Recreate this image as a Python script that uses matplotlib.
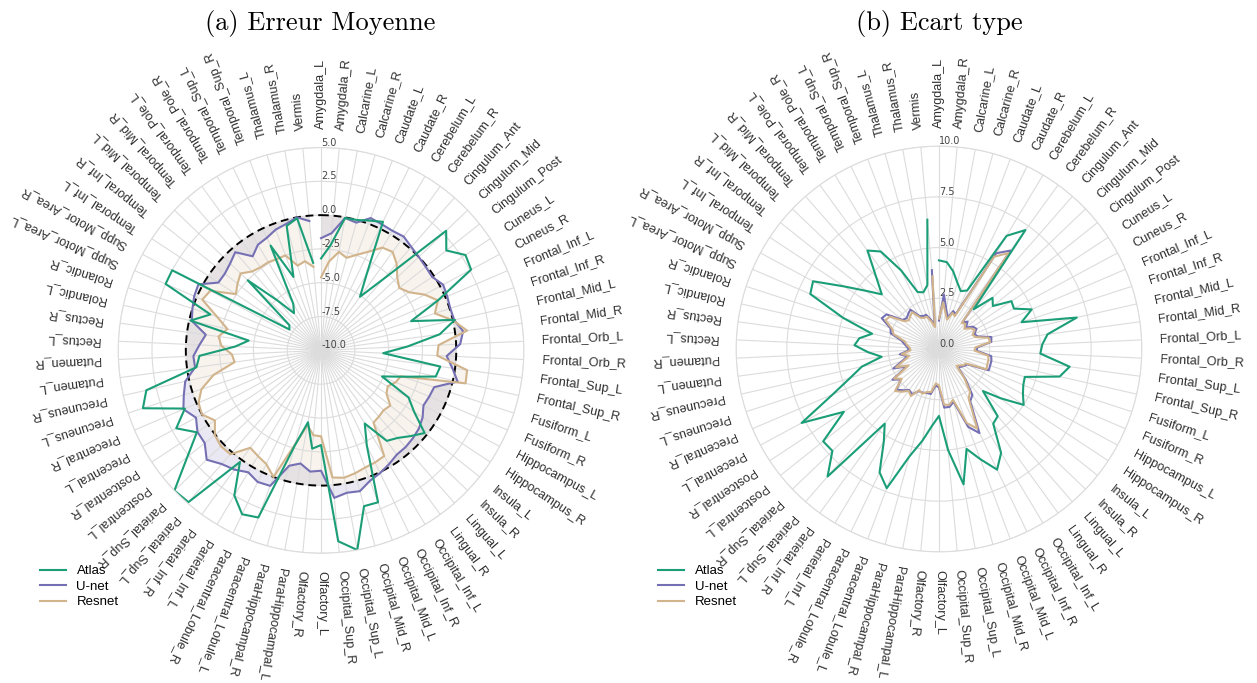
import numpy as np
import matplotlib
matplotlib.use("Agg")
import matplotlib.pyplot as plt
from matplotlib.lines import Line2D

plt.rcParams['axes.unicode_minus'] = False

regions = ["Amygdala_L", "Amygdala_R", "Calcarine_L", "Calcarine_R", "Caudate_L", "Caudate_R",
           "Cerebelum_L", "Cerebelum_R", "Cingulum_Ant", "Cingulum_Mid", "Cingulum_Post",
           "Cuneus_L", "Cuneus_R", "Frontal_Inf_L", "Frontal_Inf_R", "Frontal_Mid_L", "Frontal_Mid_R",
           "Frontal_Orb_L", "Frontal_Orb_R", "Frontal_Sup_L", "Frontal_Sup_R", "Fusiform_L", "Fusiform_R",
           "Hippocampus_L", "Hippocampus_R", "Insula_L", "Insula_R", "Lingual_L", "Lingual_R",
           "Occipital_Inf_L", "Occipital_Inf_R", "Occipital_Mid_L", "Occipital_Mid_R",
           "Occipital_Sup_L", "Occipital_Sup_R", "Olfactory_L", "Olfactory_R",
           "ParaHippocampal_L", "ParaHippocampal_R", "Paracentral_Lobule_L", "Paracentral_Lobule_R",
           "Parietal_Inf_L", "Parietal_Inf_R", "Parietal_Sup_L", "Parietal_Sup_R",
           "Postcentral_L", "Postcentral_R", "Precentral_L", "Precentral_R", "Precuneus_L", "Precuneus_R",
           "Putamen_L", "Putamen_R", "Rectus_L", "Rectus_R", "Rolandic_L", "Rolandic_R",
           "Supp_Motor_Area_L", "Supp_Motor_Area_R", "Temporal_Inf_L", "Temporal_Inf_R",
           "Temporal_Mid_L", "Temporal_Mid_R", "Temporal_Pole_L", "Temporal_Pole_R",
           "Temporal_Sup_L", "Temporal_Sup_R", "Thalamus_L", "Thalamus_R", "Vermis"]

series_names = ["Atlas", "U-net", "Resnet"]

mean_atlas = [-3.2, -2.2, -0.05, 0.0, 0.25, 0.55, -3.4, -5.1, -3.0, 2.8,
              1.85, 2.8, 2.6, -0.6, -3.0, 0.15, -1.15, -3.6, -5.4, -1.1,
              -1.3, -3.7, -5.1, -2.65, -1.75, -0.2, -0.83, -1.4, -1.73, -3.7,
              -2.2, 2.0, 1.95, 5.0, 4.17, -3.0, -2.7, -4.6, -2.7, 3.2,
              3.45, 2.5, 0.2, 4.9, 5.0, 2.65, 1.0, 2.16, 0.95, 3.85,
              3.25, -0.7, -1.0, -3.65, -4.6, -0.1, -1.4, 2.5, 2.5, -7.2,
              -7.0, -2.5, -5.1, -6.6, -6.0, -1.4, -4.2, -0.45, -0.07, -3.5]

mean_unet = [-1.7, -1.3, -0.05, -0.2, 0.45, 0.35, 0.3, 0.4, 0.15, 0.0,
             -0.1, -0.15, 0.25, 0.15, 0.05, 0.1, 0.6, 0.3, -0.7, -0.2,
             0.36, -1.2, -1.3, -1.4, -1.0, -0.74, -0.6, -0.5, -0.47, -0.2,
             0.07, 0.3, 0.8, 0.7, 0.95, -1.1, -1.0, -1.5, -1.15, 0.7,
             0.8, 0.5, 0.9, 1.16, 1.7, 1.0, 0.95, 0.5, 1.07, 0.67,
             0.3, -0.6, -0.55, -1.0, -1.4, -0.2, 0.0, 0.2, 0.3, -0.9,
             -0.9, -0.7, -0.36, -1.4, -0.9, -0.76, -0.46, -0.3, 0.0, -0.4]

mean_resnet = [-4.6, -3.4, -2.6, -2.9, -2.45, -1.9, -1.15, -1.0, -1.5, -2.2,
               -2.6, -2.2, -1.3, -0.6, -1.15, 0.0, 0.9, -1.3, -1.4, 0.9,
               0.96, -3.8, -4.0, -4.4, -4.2, -3.45, -3.6, -3.5, -3.4, -0.9,
               -0.8, -0.74, -0.57, -0.43, -0.56, -3.65, -3.7, -4.37, -2.8, 0.0,
               -0.67, -0.9, -1.1, 0.2, 0.25, 0.05, -0.6, 0.0, -0.15, -0.7,
               -1.85, -3.55, -3.4, -2.63, -2.35, -2.9, -1.9, -0.45, -0.7, -2.45,
               -2.1, -1.77, -2.25, -2.4, -2.4, -2.5, -2.5, -3.5, -3.3, -3.8]

std_atlas = [4.37, 4.3, 3.9, 3.4, 3.05, 3.2, 6.5, 7.25, 2.6, 3.65,
             3.4, 4.28, 4.2, 4.97, 4.28, 6.97, 5.4, 5.1, 5.0, 6.5,
             6.1, 4.45, 4.52, 4.7, 5.0, 3.9, 3.0, 4.4, 4.55, 5.97,
             6.6, 5.8, 5.11, 6.78, 5.0, 3.3, 3.8, 4.6, 5.5, 7.33,
             6.75, 5.3, 4.55, 8.35, 7.27, 7.3, 5.62, 7.69, 5.7, 4.6,
             3.9, 2.85, 3.5, 4.17, 3.96, 3.38, 4.97, 6.9, 7.05, 5.6,
             4.6, 3.9, 4.7, 6.0, 5.6, 4.3, 3.0, 2.9, 3.2, 6.4]

std_unet = [1.4, 2.7, 2.0, 1.6, 2.0, 1.9, 5.5, 6.0, 1.75, 1.95,
            1.7, 2.0, 2.1, 1.9, 2.0, 2.65, 2.6, 1.9, 1.85, 2.6,
            2.65, 2.65, 2.67, 1.6, 1.5, 1.4, 1.3, 2.0, 2.8, 3.0,
            4.6, 4.1, 2.7, 2.9, 2.9, 1.9, 1.8, 2.25, 2.25, 2.3,
            2.3, 2.6, 2.5, 2.7, 2.9, 2.4, 2.75, 1.8, 2.45, 1.9,
            1.6, 1.95, 1.5, 1.55, 1.7, 1.9, 2.5, 2.6, 3.2, 3.1,
            2.3, 2.2, 2.3, 2.4, 1.9, 1.8, 1.8, 1.5, 1.2, 3.9]

std_resnet = [1.5, 2.3, 1.8, 1.5, 1.9, 1.8, 5.3, 5.85, 1.7, 1.8,
              1.6, 1.85, 2.0, 1.8, 1.9, 2.5, 2.55, 1.8, 1.75, 2.45,
              2.5, 2.5, 2.55, 1.5, 1.45, 1.3, 1.2, 1.9, 2.6, 2.85,
              4.35, 3.9, 2.6, 2.8, 2.75, 1.8, 1.7, 2.15, 2.2, 2.35,
              2.25, 2.7, 2.55, 2.8, 3.0, 2.35, 2.65, 1.7, 2.3, 1.8,
              1.5, 1.85, 1.4, 1.45, 1.6, 1.75, 2.35, 2.5, 3.0, 2.9,
              2.2, 2.05, 2.15, 2.25, 1.8, 1.7, 1.7, 1.4, 1.1, 3.6]

mean_ticks = [-10.0, -7.5, -5.0, -2.5, 0.0, 2.5, 5.0]
std_ticks = [0.0, 2.5, 5.0, 7.5, 10.0]

colors = {"Atlas": "#1b9e77", "U-net": "#7570b3", "Resnet": "#d2b48c"}
GRID = "#dcdcdc"

n = len(regions)
angles = np.arange(n) * 2 * np.pi / n

fig = plt.figure(figsize=(12.57, 6.83), dpi=100)
ax1 = fig.add_axes([0.0939, 0.190, 0.323, 0.594], projection='polar')
ax2 = fig.add_axes([0.5855, 0.192, 0.323, 0.594], projection='polar')


def setup(ax, ticks):
    ax.set_theta_zero_location('N')
    ax.set_theta_direction(-1)
    ax.set_ylim(ticks[0], ticks[-1])
    ax.set_yticks(ticks)
    ax.set_yticklabels([f"{t:.1f}" for t in ticks])
    ax.set_xticks(angles)
    ax.set_xticklabels([])
    ax.set_rlabel_position(0)
    ax.grid(True, color=GRID, lw=0.8)
    ax.spines['polar'].set_color(GRID)
    ax.spines['polar'].set_linewidth(0.8)
    ax.tick_params(axis='y', labelsize=7, labelcolor='#444444')
    ax.tick_params(axis='x', length=0)
    span = ticks[-1] - ticks[0]
    rtext = ticks[-1] + span * 0.09
    for th, name in zip(angles, regions):
        rot = 90 - np.degrees(th)
        ax.text(th, rtext, name, rotation=rot, rotation_mode='anchor',
                ha='left', va='center', fontsize=9.1, family='Liberation Sans',
                color='#303030', clip_on=False)


setup(ax1, mean_ticks)
setup(ax2, std_ticks)

# Panel (a)
ax1.fill_between(angles, 0, mean_unet, color=colors["U-net"], alpha=0.15, lw=0)
ax1.fill_between(angles, 0, mean_resnet, color=colors["Resnet"], alpha=0.15, lw=0)
ax1.plot(np.linspace(0, 2 * np.pi, 400), np.zeros(400), color='black', ls=(0, (4, 2.5)), lw=1.4)
ax1.plot(angles, mean_unet, color=colors["U-net"], lw=1.5)
ax1.plot(angles, mean_resnet, color=colors["Resnet"], lw=1.5)
ax1.plot(angles, mean_atlas, color=colors["Atlas"], lw=1.5)

# Panel (b)
ax2.plot(angles, std_unet, color=colors["U-net"], lw=1.5)
ax2.plot(angles, std_resnet, color=colors["Resnet"], lw=1.5)
ax2.plot(angles, std_atlas, color=colors["Atlas"], lw=1.5)

handles = [Line2D([0], [0], color=colors[s], lw=1.5) for s in series_names]
for x0 in (0.022, 0.514):
    fig.legend(handles, series_names, loc='upper left', bbox_to_anchor=(x0, 0.19),
               frameon=False, prop={'family': 'Liberation Sans', 'size': 9.5},
               labelspacing=0.25, handlelength=2.0, handletextpad=0.8)

fig.text(0.2546, 0.966, "(a) Erreur Moyenne", fontsize=19, family='cmr10', ha='center', va='center')
fig.text(0.747, 0.966, "(b) Ecart type", fontsize=19, family='cmr10', ha='center', va='center')

fig.savefig("out.png", dpi=100, facecolor='white')
